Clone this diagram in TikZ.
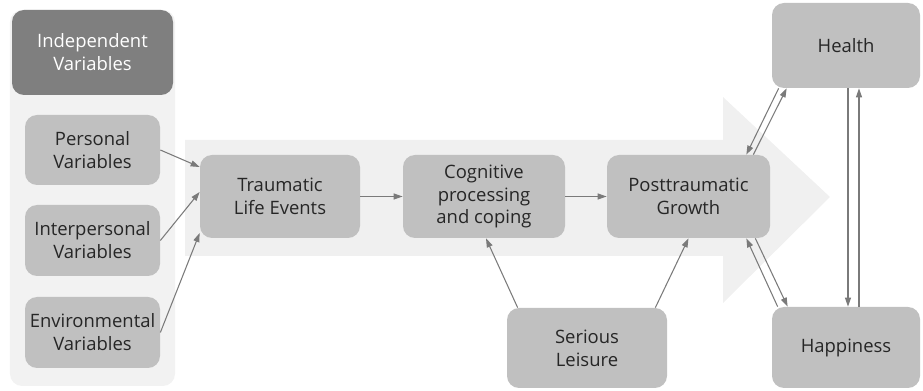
\documentclass[tikz,border=0pt]{standalone}
\usepackage{fontspec}
\setmainfont{Open Sans}
\usetikzlibrary{arrows.meta}
\definecolor{boxgray}{HTML}{C0C0C0}
\definecolor{headgray}{HTML}{7F7F7F}
\definecolor{panelgray}{HTML}{F2F2F2}
\definecolor{flowgray}{HTML}{F0F0F0}
\definecolor{linegray}{HTML}{7A7A7A}
\definecolor{textgray}{HTML}{262626}
\tikzset{
  varbox/.style={fill=boxgray, rounded corners=0.24cm, align=center,
    text=textgray, inner sep=0pt, font=\fontsize{10.5}{13}\selectfont},
  conn/.style={draw=linegray, line width=0.6pt,
    -{Triangle[length=1.8mm,width=1.2mm]}}
}
\begin{document}
\begin{tikzpicture}[scale=1.0]
  \useasboundingbox (0,0) rectangle (18.46,7.82);
  % background shapes
  \fill[panelgray, rounded corners=0.24cm] (0.2,0.1) rectangle (3.5,7.62);
  \fill[flowgray] (3.7,5.02) -- (14.46,5.02) -- (14.46,5.88) -- (16.6,3.88)
    -- (14.46,1.76) -- (14.46,2.7) -- (3.7,2.7) -- cycle;
  % boxes
  \node[varbox, fill=headgray, text=white, minimum width=3.22cm, minimum height=1.7cm]
    (indep) at (1.85,6.77) {Independent\\Variables};
  \node[varbox, minimum width=2.7cm, minimum height=1.4cm]
    (pers) at (1.85,4.82) {Personal\\Variables};
  \node[varbox, minimum width=2.7cm, minimum height=1.42cm]
    (inter) at (1.85,3.01) {Interpersonal\\Variables};
  \node[varbox, minimum width=2.7cm, minimum height=1.42cm]
    (env) at (1.85,1.17) {Environmental\\Variables};
  \node[varbox, minimum width=3.2cm, minimum height=1.66cm]
    (trauma) at (5.6,3.89) {Traumatic\\Life Events};
  \node[varbox, minimum width=3.24cm, minimum height=1.66cm]
    (cog) at (9.68,3.89) {Cognitive\\processing\\and coping};
  \node[varbox, minimum width=3.26cm, minimum height=1.66cm]
    (ptg) at (13.77,3.89) {Posttraumatic\\Growth};
  \node[varbox, minimum width=3.2cm, minimum height=1.6cm]
    (leisure) at (11.74,0.86) {Serious\\Leisure};
  \node[varbox, minimum width=2.96cm, minimum height=1.7cm]
    (health) at (16.92,6.91) {Health};
  \node[varbox, minimum width=2.96cm, minimum height=1.62cm]
    (happy) at (16.92,0.87) {Happiness};
  % connectors
  \draw[conn] (pers.east) -- ([yshift=0.59cm]trauma.west);
  \draw[conn] (inter.east) -- ([yshift=0.09cm]trauma.west);
  \draw[conn] (env.east) -- ([yshift=-0.73cm]trauma.west);
  \draw[conn] (trauma) -- (cog);
  \draw[conn] (cog) -- (ptg);
  \draw[conn] ([xshift=0.22cm]leisure.north west) -- ([xshift=0.04cm]cog.south);
  \draw[conn] ([xshift=-0.24cm]leisure.north east) -- (ptg.south);
  \draw[conn] ([xshift=0.14cm]health.south west) -- ([xshift=-0.48cm]ptg.north east);
  \draw[conn] ([xshift=-0.34cm]ptg.north east) -- ([xshift=0.3cm]health.south west);
  \draw[conn] ([xshift=0.12cm]happy.north west) -- ([xshift=-0.48cm]ptg.south east);
  \draw[conn] ([xshift=-0.3cm]ptg.south east) -- ([xshift=0.32cm]happy.north west);
  \draw[conn] ([xshift=0.04cm]health.south) -- ([xshift=0.04cm]happy.north);
  \draw[conn] ([xshift=0.26cm]happy.north) -- ([xshift=0.26cm]health.south);
\end{tikzpicture}
\end{document}
